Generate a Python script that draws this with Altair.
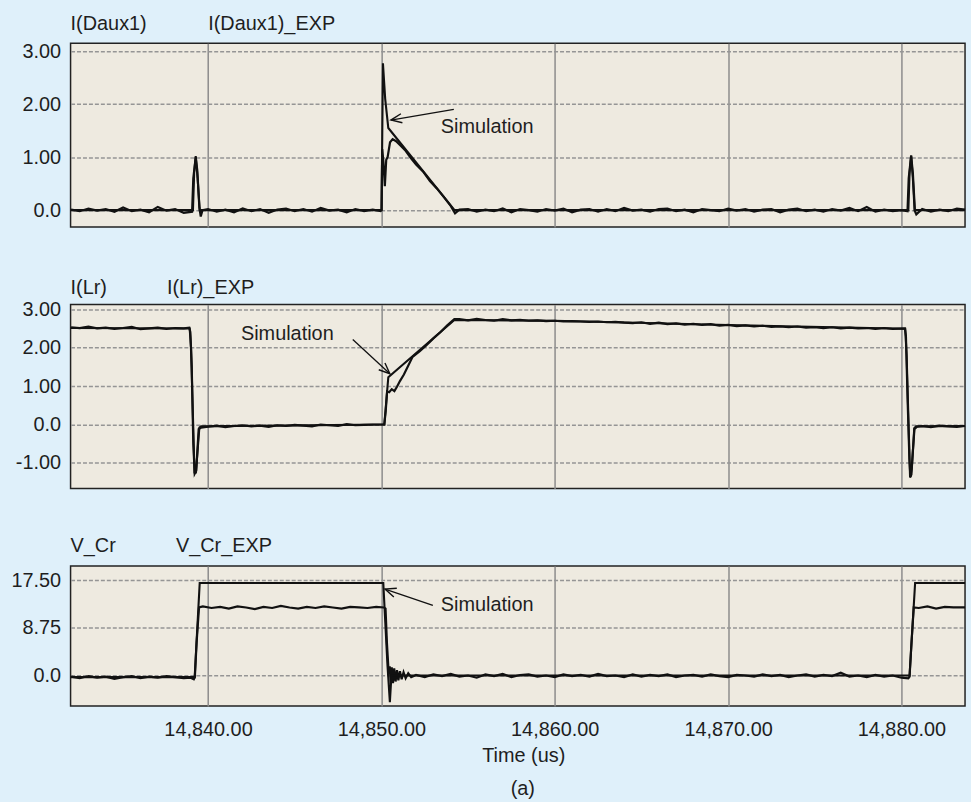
import altair as alt
import pandas as pd

FONT = "Liberation Sans"
BG = "#dff0fa"
PLOT_BG = "#eeeae0"
INK = "#111111"
TXT = "#1e1e1e"
GRID = "#8c8c8c"

X_MIN, X_MAX = 14832.07, 14883.67
X_TICKS = [14840, 14850, 14860, 14870, 14880]

# ---------------- Panel 1 : I(Daux1) ----------------
p1_titles = ["I(Daux1)", "I(Daux1)_EXP"]
p1_sim_t = [14832.07, 14839.13, 14839.20, 14839.29, 14839.40, 14839.52, 14850.01, 14850.09,
            14850.22, 14850.40, 14854.22, 14880.40, 14880.47, 14880.56, 14880.66, 14880.76, 14883.67]
p1_sim_v = [0.0, 0.0, 0.70, 1.02, 0.60, 0.0, 0.0, 2.77, 2.10, 1.55, 0.0, 0.0, 0.70, 1.03, 0.60, 0.0, 0.0]
p1_exp_noise_a = [0.01, -0.02, 0.03, -0.01, 0.02, -0.03, 0.05, -0.02, 0.01, -0.04, 0.06, -0.01, 0.02, -0.05]
p1_exp_spike1 = [(14839.08, -0.03), (14839.15, 0.60), (14839.29, 1.00), (14839.38, 0.75),
                 (14839.50, 0.05), (14839.58, -0.12), (14839.68, 0.0)]
p1_exp_noise_b = [0.02, -0.03, 0.01, -0.04, 0.03, -0.02, 0.02, -0.05, 0.01, 0.03,
                  -0.02, 0.02, -0.03, 0.04, -0.01, 0.01, -0.04, 0.02, -0.02, 0.01]
p1_exp_pulse = [(14849.95, -0.02), (14850.01, 0.0), (14850.05, 1.15), (14850.12, 0.90), (14850.20, 0.45),
                (14850.28, 0.95), (14850.36, 1.00), (14850.50, 1.28), (14850.65, 1.34), (14850.85, 1.30),
                (14851.10, 1.22), (14851.40, 1.12), (14851.70, 0.98), (14852.00, 0.86), (14852.40, 0.73),
                (14852.80, 0.55), (14853.20, 0.41), (14853.60, 0.25), (14854.00, 0.08), (14854.25, -0.06),
                (14854.50, 0.01)]
p1_exp_noise_c = [0.02, -0.03, 0.01, -0.02, 0.03, -0.04, 0.02, 0.0, -0.03, 0.02,
                  -0.01, 0.03, -0.04, 0.01, 0.02, -0.03, 0.02, -0.02, 0.04, -0.01,
                  0.01, -0.03, 0.02, 0.03, -0.02, 0.01, -0.04, 0.02, 0.0, -0.02,
                  0.03, -0.01, 0.02, -0.03, 0.01, 0.02, -0.04, 0.01, 0.03, -0.02,
                  0.01, -0.03, 0.02, -0.01, 0.04, -0.02, 0.06, -0.03, 0.01, -0.02, 0.0]
p1_exp_spike2 = [(14880.35, -0.02), (14880.42, 0.60), (14880.56, 1.03), (14880.66, 0.70),
                 (14880.78, -0.02), (14880.86, -0.08)]
p1_exp_noise_d = [0.02, -0.03, 0.01, -0.02, 0.03]
p1_exp_end = [(14883.67, 0.01)]

# ---------------- Panel 2 : I(Lr) ----------------
p2_titles = ["I(Lr)", "I(Lr)_EXP"]
p2_sim_t = [14832.07, 14838.94, 14839.02, 14839.22, 14839.30, 14839.50, 14839.60, 14850.17, 14850.40,
            14854.21, 14860.00, 14870.00, 14880.22, 14880.30, 14880.50, 14880.58, 14880.74, 14880.85, 14883.67]
p2_sim_v = [2.51, 2.50, 2.00, -1.25, -1.25, -0.08, -0.05, 0.0, 1.23,
            2.72, 2.70, 2.59, 2.49, 1.80, -1.38, -1.30, -0.10, -0.05, -0.04]
p2_exp_noise_a = [2.53, 2.51, 2.55, 2.50, 2.52, 2.49, 2.51, 2.54, 2.48, 2.50, 2.52, 2.49, 2.51, 2.50]
p2_exp_fall1 = [(14838.92, 2.52), (14838.98, 2.40), (14839.06, 1.50), (14839.15, -0.50), (14839.23, -1.28),
                (14839.32, -1.20), (14839.46, -0.12), (14839.60, -0.08)]
p2_exp_noise_b = [-0.06, -0.03, -0.07, -0.04, -0.02, -0.05, -0.03, -0.06, -0.02, -0.04,
                  -0.01, -0.03, -0.05, 0.0, -0.02, -0.04, 0.01, -0.02, -0.01, 0.0]
p2_exp_ramp = [(14850.17, 0.0), (14850.25, 0.35), (14850.33, 0.86), (14850.45, 0.84), (14850.60, 0.92),
               (14850.75, 0.87), (14850.90, 0.98), (14851.07, 1.13), (14851.30, 1.30), (14851.54, 1.52),
               (14851.80, 1.76), (14852.20, 1.90), (14852.60, 2.06), (14853.00, 2.24), (14853.40, 2.40),
               (14853.80, 2.58), (14854.21, 2.74)]
p2_exp_noise_c = [2.74, 2.71, 2.75, 2.72, 2.70, 2.74, 2.71, 2.72, 2.70, 2.71,
                  2.69, 2.70, 2.68, 2.69, 2.68, 2.67, 2.68, 2.66, 2.67, 2.65,
                  2.64, 2.66, 2.62, 2.65, 2.61, 2.63, 2.60, 2.62, 2.59, 2.61,
                  2.57, 2.59, 2.56, 2.58, 2.55, 2.57, 2.54, 2.55, 2.53, 2.55,
                  2.52, 2.53, 2.51, 2.53, 2.50, 2.52, 2.50, 2.51, 2.49, 2.51, 2.49]
p2_exp_fall2 = [(14880.20, 2.50), (14880.26, 2.30), (14880.36, 0.60), (14880.46, -0.90), (14880.52, -1.36),
                (14880.60, -1.10), (14880.75, -0.12), (14880.90, -0.06)]
p2_exp_noise_d = [-0.04, -0.07, -0.03, -0.05, -0.06]
p2_exp_end = [(14883.67, -0.04)]

# ---------------- Panel 3 : V_Cr ----------------
p3_titles = ["V_Cr", "V_Cr_EXP"]
p3_sim_t = [14832.07, 14839.23, 14839.52, 14850.11, 14850.35, 14850.49, 14850.58, 14880.47, 14880.79, 14883.67]
p3_sim_v = [-0.3, -0.3, 17.0, 17.0, 2.0, -4.9, 0.0, 0.0, 17.0, 17.0]
p3_exp_noise_a = [-0.2, -0.5, -0.1, -0.4, -0.2, -0.6, -0.3, -0.1, -0.5, -0.2, -0.4, -0.1, -0.3, -0.5]
p3_exp_rise1 = [(14839.00, -0.4), (14839.18, -0.7), (14839.24, -0.3), (14839.34, 6.0), (14839.48, 12.5)]
p3_exp_noise_b = [12.7, 12.4, 12.6, 12.3, 12.7, 12.5, 12.2, 12.6, 12.4, 12.8, 12.5,
                  12.3, 12.6, 12.4, 12.7, 12.5, 12.3, 12.6, 12.5, 12.4, 12.6]
p3_exp_fall = [(14850.15, 12.5), (14850.24, 12.3), (14850.32, 6.0), (14850.42, 0.5), (14850.48, 1.7),
               (14850.54, -1.6), (14850.60, 1.5), (14850.67, -1.4), (14850.74, 1.3), (14850.82, -1.1),
               (14850.90, 1.0), (14850.98, -0.9), (14851.07, 0.8), (14851.17, -0.7), (14851.28, 0.6),
               (14851.40, -0.5), (14851.55, 0.4), (14851.72, -0.3)]
p3_exp_noise_c = [0.1, -0.3, 0.2, -0.1, 0.3, -0.2, 0.0, -0.4, 0.2, -0.1,
                  0.3, -0.3, 0.1, 0.2, -0.2, 0.0, -0.3, 0.2, -0.1, 0.1,
                  -0.2, 0.3, -0.1, 0.0, -0.3, 0.2, -0.2, 0.1, -0.1, 0.2,
                  -0.3, 0.0, 0.1, -0.2, 0.2, -0.1, -0.3, 0.1, 0.0, -0.2,
                  0.2, -0.1, 0.1, -0.3, 0.0, 0.2, -0.2, 0.1, -0.1, 0.5,
                  -0.2, 0.0, -0.3, 0.1, -0.2, 0.0, -0.4]
p3_exp_rise2 = [(14880.40, -0.5), (14880.47, -0.2), (14880.58, 6.0), (14880.71, 12.5)]
p3_exp_noise_d = [12.4, 12.7, 12.3, 12.6, 12.5]
p3_exp_end = [(14883.67, 12.5)]

# annotation anchors (data coordinates): arrow start, arrow tip, label left
p1_ann = {"start": (14854.18, 1.90), "tip": (14850.55, 1.70), "label": (14853.43, 1.575)}
p2_ann = {"start": (14848.35, 2.21), "tip": (14850.49, 1.32), "label": (14841.90, 2.35)}
p3_ann = {"start": (14852.97, 12.87), "tip": (14850.21, 15.87), "label": (14853.43, 12.87)}


def sampled(start, step, vals):
    return [(round(start + i * step, 3), v) for i, v in enumerate(vals)]


def frame(pairs):
    return pd.DataFrame({"t": [p[0] for p in pairs], "v": [p[1] for p in pairs]})


p1_exp = frame(sampled(14832.1, 0.5, p1_exp_noise_a) + p1_exp_spike1 + sampled(14840.0, 0.5, p1_exp_noise_b)
               + p1_exp_pulse + sampled(14855.0, 0.5, p1_exp_noise_c) + p1_exp_spike2
               + sampled(14881.2, 0.5, p1_exp_noise_d) + p1_exp_end)
p2_exp = frame(sampled(14832.1, 0.5, p2_exp_noise_a) + p2_exp_fall1 + sampled(14840.0, 0.5, p2_exp_noise_b)
               + p2_exp_ramp + sampled(14854.5, 0.5, p2_exp_noise_c) + p2_exp_fall2
               + sampled(14881.2, 0.5, p2_exp_noise_d) + p2_exp_end)
p3_exp = frame(sampled(14832.1, 0.5, p3_exp_noise_a) + p3_exp_rise1 + sampled(14839.7, 0.5, p3_exp_noise_b)
               + p3_exp_fall + sampled(14852.0, 0.5, p3_exp_noise_c) + p3_exp_rise2
               + sampled(14881.0, 0.5, p3_exp_noise_d) + p3_exp_end)

p1_sim = pd.DataFrame({"t": p1_sim_t, "v": p1_sim_v})
p2_sim = pd.DataFrame({"t": p2_sim_t, "v": p2_sim_v})
p3_sim = pd.DataFrame({"t": p3_sim_t, "v": p3_sim_v})

ARROW_PATH = "M -1 -0.42 L 0 0 L -1 0.42"
LABEL_EXPR = "datum.value == 0 ? '0.0' : replace(format(datum.value, '.2f'), '\u2212', '-')"


def panel(sim, exp, ydom, yvals, height, titles, title_x2, title_dy, ann, angle, bottom=False):
    if bottom:
        xaxis = alt.Axis(values=X_TICKS, format=",.2f", grid=True, gridColor=GRID, gridWidth=1.5,
                         ticks=False, tickSize=0, domain=False, labelPadding=14, labelFontSize=20,
                         title="Time (us)", titleFontSize=20, titleFontWeight="normal",
                         titleX=455.5, titleY=56, titleBaseline="alphabetic")
    else:
        xaxis = alt.Axis(values=X_TICKS, grid=True, gridColor=GRID, gridWidth=1.5, labels=False,
                         ticks=False, tickSize=0, domain=False, title=None)
    yaxis = alt.Axis(values=yvals, labelExpr=LABEL_EXPR, grid=True, gridColor="#959595", gridWidth=1.5,
                     gridDash=[4, 2], ticks=False, tickSize=0, domain=False, labelPadding=10,
                     labelFontSize=20, title=None)
    x = alt.X("t:Q", scale=alt.Scale(domain=[X_MIN, X_MAX], nice=False, zero=False), axis=xaxis)
    y = alt.Y("v:Q", scale=alt.Scale(domain=ydom, nice=False, zero=False), axis=yaxis)

    exp_line = alt.Chart(exp).mark_line(color=INK, strokeWidth=2.2).encode(x=x, y=y)
    sim_line = alt.Chart(sim).mark_line(color=INK, strokeWidth=2.1).encode(x=x, y=y)
    arrow_df = pd.DataFrame({"t": [ann["start"][0], ann["tip"][0]], "v": [ann["start"][1], ann["tip"][1]]})
    arrow = alt.Chart(arrow_df).mark_line(color=INK, strokeWidth=1.3).encode(x=x, y=y)
    head = alt.Chart(pd.DataFrame({"t": [ann["tip"][0]], "v": [ann["tip"][1]]})).mark_point(
        shape=ARROW_PATH, size=480, angle=angle, filled=False, color=INK, strokeWidth=1.4, opacity=1
    ).encode(x=x, y=y)
    label = alt.Chart(pd.DataFrame({"t": [ann["label"][0]], "v": [ann["label"][1]]})).mark_text(
        text="Simulation", align="left", baseline="middle", font=FONT, fontSize=20, color=TXT
    ).encode(x=x, y=y)
    one = pd.DataFrame({"k": [0]})
    t1 = alt.Chart(one).mark_text(text=titles[0], align="left", baseline="alphabetic", font=FONT,
                                  fontSize=20, color=TXT).encode(x=alt.value(0), y=alt.value(-title_dy))
    t2 = alt.Chart(one).mark_text(text=titles[1], align="left", baseline="alphabetic", font=FONT,
                                  fontSize=20, color=TXT).encode(x=alt.value(title_x2), y=alt.value(-title_dy))
    layers = [exp_line, sim_line, arrow, head, label, t1, t2]
    if bottom:
        tag = alt.Chart(one).mark_text(text="(a)", align="center", baseline="middle", font=FONT,
                                       fontSize=20, color=TXT).encode(x=alt.value(455), y=alt.value(224))
        layers.append(tag)
    return alt.layer(*layers).properties(width=900, height=height)


c1 = panel(p1_sim, p1_exp, [-0.32, 3.15], [0, 1, 2, 3], 185, p1_titles, 138.5, 13.5, p1_ann, 170.5)
c2 = panel(p2_sim, p2_exp, [-1.665, 3.12], [-1, 0, 1, 2, 3], 185, p2_titles, 97, 10.5, p2_ann, 42.6)
c3 = panel(p3_sim, p3_exp, [-5.62, 20.12], [0, 8.75, 17.5], 141, p3_titles, 106, 13.7, p3_ann, 198.8,
           bottom=True)

chart = alt.VConcatChart(vconcat=[c1, c2, c3], spacing=78, bounds="flush").properties(
    padding={"left": 10, "top": 10, "right": 0, "bottom": 0}
).configure(background=BG, font=FONT).configure_view(
    fill=PLOT_BG, stroke="#222222", strokeWidth=1.5
).configure_axis(
    labelFont=FONT, labelColor=TXT, titleFont=FONT, titleColor=TXT
)

chart.save("out.html", embed_options={"renderer": "svg", "actions": False})
